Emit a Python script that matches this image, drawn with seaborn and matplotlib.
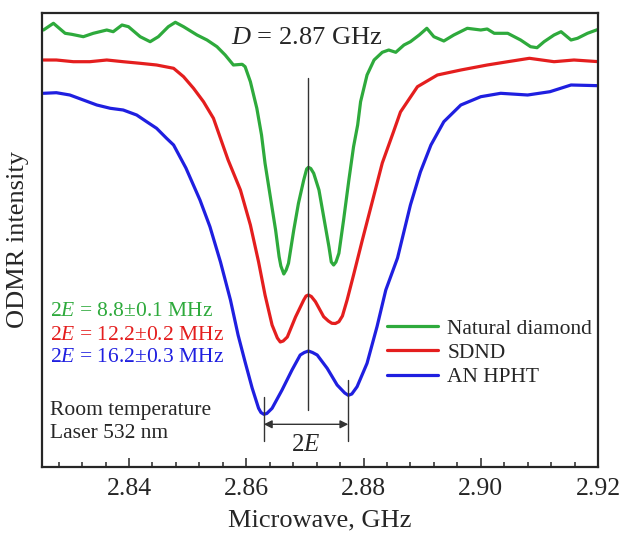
import pandas as pd
import matplotlib
matplotlib.use('Agg')
import matplotlib.pyplot as plt
from matplotlib.ticker import MultipleLocator
import seaborn as sns

# 곡선 데이터 (GHz, 임의 단위 세기)
green_f = [2.8254, 2.8271, 2.8291, 2.8302, 2.8322, 2.8339, 2.8362, 2.8373, 2.8388, 2.8399,
           2.8419, 2.8436, 2.8450, 2.8467, 2.8479, 2.8493, 2.8516, 2.8533, 2.8550, 2.8564,
           2.8578, 2.8593, 2.8598, 2.8607, 2.8618, 2.8626, 2.8632, 2.8641, 2.8650, 2.8656,
           2.8659, 2.8664, 2.8668, 2.8672, 2.8681, 2.8689, 2.8698, 2.8703, 2.8706, 2.8710,
           2.8715, 2.8724, 2.8732, 2.8741, 2.8745, 2.8749, 2.8753, 2.8758, 2.8766, 2.8775,
           2.8783, 2.8790, 2.8795, 2.8806, 2.8818, 2.8832,
           2.8843, 2.8855, 2.8869, 2.8880, 2.8895, 2.8908, 2.8920, 2.8937, 2.8954, 2.8977,
           2.9000, 2.9011, 2.9023, 2.9046, 2.9068, 2.9085, 2.9096, 2.9108, 2.9125, 2.9137,
           2.9154, 2.9165, 2.9182, 2.9202]
green_i = [437, 443.7, 433.7, 432.7, 430.3, 433.7, 437, 435.3, 442, 440.3,
           430.3, 425.3, 430.3, 440.3, 444.7, 440.3, 432, 427, 420.3, 412,
           402, 402.7, 400.3, 385.3, 358.7, 332, 303.7, 270.3, 237, 210.3,
           201, 193, 197, 203.7, 237, 263.7, 287, 298, 299.7, 298.5,
           293.7, 277, 250.3, 220.3, 205, 202, 205, 213.7, 247, 287,
           320.3, 342, 365.3, 392, 407, 414.7,
           417, 414.7, 422, 425.3, 432, 438.7, 430.3, 426, 432, 438.7,
           437, 438, 433.7, 433.7, 427, 420.3, 419.3, 425.3, 432, 435.3,
           427, 428.7, 433.7, 438]

red_f = [2.8254, 2.8276, 2.8305, 2.8333, 2.8362, 2.8390, 2.8419, 2.8447, 2.8476, 2.8493,
         2.8510, 2.8527, 2.8544, 2.8558, 2.8569, 2.8590, 2.8607, 2.8621, 2.8632, 2.8644,
         2.8653, 2.8658, 2.8663, 2.8670, 2.8684, 2.8698, 2.8702, 2.8706, 2.8711, 2.8718,
         2.8732, 2.8740, 2.8746, 2.8752, 2.8758, 2.8764, 2.8772,
         2.8783, 2.8798, 2.8817, 2.8832, 2.8851, 2.8863, 2.8892, 2.8926, 2.8966, 2.9011,
         2.9046, 2.9083, 2.9125, 2.9159, 2.9202]
red_i = [407, 407, 405.3, 405.3, 407, 405.3, 403.7, 402, 398.7, 390.3,
         378.7, 365.3, 348.7, 325.3, 307, 277, 242, 205, 172, 142,
         129, 125, 126, 130, 150, 167, 171, 172, 170.5, 165.3,
         150.3, 146, 143.7, 143.5, 145.3, 151, 167,
         192, 227, 270, 304, 335, 355, 380.3, 392, 397, 402,
         405.3, 408.7, 405.3, 407, 405.3]

blue_f = [2.8254, 2.8276, 2.8299, 2.8322, 2.8345, 2.8368, 2.8390, 2.8413, 2.8430, 2.8447,
          2.8464, 2.8476, 2.8497, 2.8521, 2.8538, 2.8556, 2.8573, 2.8586, 2.8598, 2.8610,
          2.8621, 2.8625, 2.8630, 2.8635, 2.8644, 2.8661, 2.8678, 2.8692, 2.8699, 2.8706,
          2.8713, 2.8721, 2.8738, 2.8755, 2.8768, 2.8774, 2.8780, 2.8789, 2.8806, 2.8823,
          2.8838, 2.8858, 2.8880, 2.8897, 2.8915, 2.8937,
          2.8966, 2.9000, 2.9034, 2.9080, 2.9118, 2.9154, 2.9202]
blue_i = [373.7, 374.3, 372, 367, 362, 358.7, 357, 352, 345.3, 338.7,
          328.7, 322, 299, 267, 240.3, 205, 167, 132, 105, 79,
          58.7, 54.5, 52.7, 53.5, 58.7, 77, 97, 112, 114.5, 116,
          114.5, 112, 98.7, 82, 74, 71.7, 73, 80.3, 103.7, 140.3,
          177, 209, 262, 295, 322, 345.3,
          362, 370.3, 373.7, 372, 375.3, 382, 381.3]

samples = ["Natural diamond", "SDND", "AN HPHT"]
colors = ["#2eaa3c", "#e41e1e", "#1f1fe0"]
splittings = ["2$E$ = 8.8±0.1 MHz", "2$E$ = 12.2±0.2 MHz", "2$E$ = 16.2±0.3 MHz"]

D_line = 2.8706
E_left, E_right = 2.8630, 2.8774

sns.set_theme(style="ticks")
plt.rcParams['font.family'] = ['Liberation Serif', 'DejaVu Serif']
plt.rcParams['mathtext.fontset'] = 'custom'
plt.rcParams['mathtext.rm'] = 'Liberation Serif'
plt.rcParams['mathtext.it'] = 'Liberation Serif:italic'

df = pd.concat([
    pd.DataFrame({"f": green_f, "I": green_i, "sample": samples[0]}),
    pd.DataFrame({"f": red_f, "I": red_i, "sample": samples[1]}),
    pd.DataFrame({"f": blue_f, "I": blue_i, "sample": samples[2]}),
])

fig = plt.figure(figsize=(6.23, 5.34), dpi=100)
ax = fig.add_axes([41.7 / 623, 1 - 467 / 534, (598 - 41.7) / 623, (467 - 13) / 534])

sns.lineplot(data=df, x="f", y="I", hue="sample", palette=colors, estimator=None,
             sort=False, linewidth=2.3, ax=ax)
for line in ax.get_lines():
    line.set_solid_joinstyle('round')

ax.set_xlim(2.8251, 2.92)
ax.set_ylim(0, 454)
ax.set_yticks([])
ax.xaxis.set_major_locator(MultipleLocator(0.02))
ax.xaxis.set_minor_locator(MultipleLocator(0.004))
ax.xaxis.set_major_formatter(matplotlib.ticker.FormatStrFormatter('%.2f'))
ax.tick_params(axis='x', which='major', direction='in', length=6.5, width=1.1,
               color='#262626', labelsize=18.5, labelcolor='#262626', pad=8)
ax.tick_params(axis='x', which='minor', direction='in', length=3.6, width=1.1, color='#262626')
for s in ax.spines.values():
    s.set_linewidth(1.6)
    s.set_color('#262626')

ax.set_xlabel("Microwave, GHz", fontsize=19, color='#262626', labelpad=7)
ax.set_ylabel("ODMR intensity", fontsize=19, color='#262626', labelpad=9)

# D 선과 2E 표시
ax.plot([D_line, D_line], [57, 389], color='#333333', linewidth=1.0)
ax.plot([E_left, E_left], [26, 70], color='#333333', linewidth=1.0)
ax.plot([E_right, E_right], [26, 87], color='#333333', linewidth=1.0)
ax.annotate("", xy=(E_left, 42.7), xytext=(E_right, 42.7),
            arrowprops=dict(arrowstyle='<|-|>', color='#333333', lw=1.0,
                            shrinkA=0, shrinkB=0, mutation_scale=12))
ax.text(D_line - 0.0004, 22, "2$E$", fontsize=18, color='#262626', ha='center', va='center')
ax.text(2.8703, 429, "$D$ = 2.87 GHz", fontsize=19, color='#262626', ha='center', va='center')

for k, (txt, c) in enumerate(zip(splittings, colors)):
    ax.text(0.015, (467 - (312 + 23 * k)) / 454, txt, color=c, fontsize=15.5,
            transform=ax.transAxes, ha='left', va='center')
ax.text(0.015, (467 - 410) / 454, "Room temperature", color='#262626', fontsize=15.5,
        transform=ax.transAxes, ha='left', va='center')
ax.text(0.015, (467 - 433) / 454, "Laser 532 nm", color='#262626', fontsize=15.5,
        transform=ax.transAxes, ha='left', va='center')

handles, labels = ax.get_legend_handles_labels()
ax.legend(handles, labels, loc='upper left', bbox_to_anchor=(0.6207, 0.327),
          frameon=False, fontsize=15.5, handlelength=2.35, handletextpad=0.45,
          labelspacing=0.2, borderpad=0, borderaxespad=0, labelcolor='#262626')

fig.savefig("out.png", dpi=100)
